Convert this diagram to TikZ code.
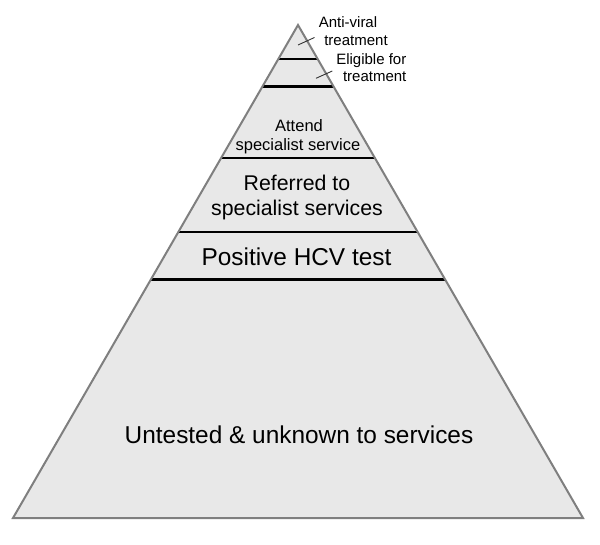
\documentclass[tikz,border=0pt]{standalone}
\usepackage{fontspec}
\setmainfont{Liberation Sans}
\usetikzlibrary{calc}
\definecolor{pyrfill}{HTML}{E8E8E8}
\definecolor{pyredge}{HTML}{7F7F7F}
\tikzset{
  lbl/.style={inner sep=0pt, anchor=base, text=black},
  small/.style={lbl, font=\fontsize{15}{18}\selectfont},
  mid/.style={lbl, font=\fontsize{16.5}{20}\selectfont},
  big/.style={lbl, font=\fontsize{21.3}{25}\selectfont},
  huge/.style={lbl, font=\fontsize{24.4}{29}\selectfont},
  level/.style={line width=2.2pt, black},
  leader/.style={line width=0.9pt, black!80},
  pyr/.style={fill=pyrfill, draw=pyredge, line width=2pt, line join=miter},
}
\begin{document}
\begin{tikzpicture}[x=1pt, y=-1pt]
\useasboundingbox (0,0) rectangle (600,544);
\coordinate (A) at (298,25);
\coordinate (L) at (13,518);
\coordinate (R) at (583,518);
\fill[pyrfill] (A) -- (L) -- (R) -- cycle;
\foreach \t/\n in {0.06897/1, 0.12475/2, 0.26978/3, 0.41988/4, 0.51623/5}{
  \coordinate (l\n) at ($(A)!\t!(L)$);
  \coordinate (r\n) at ($(A)!\t!(R)$);
  \draw[level] (l\n) -- (r\n);
}
\draw[pyr, fill=none] (A) -- (L) -- (R) -- cycle;

% labels
\node[small] (av1) at (348,27.3) {Anti-viral};
\node[small] (av2) at (356,45) {treatment};
\node[small] (el1) at (371.3,64.5) {Eligible for};
\node[small] (el2) at (374.7,81.7) {treatment};
\node[mid] (at1) at (299,131.7) {Attend};
\node[mid] (at2) at (298,150.5) {specialist service};
\node[big] (rf1) at (297,190.5) {Referred to};
\node[big] (rf2) at (297,215.5) {specialist services};
\node[huge] (pos) at (296.5,265.8) {Positive HCV test};
\node[huge] (unt) at (299,443.3) {Untested \& unknown to services};

% leaders
\coordinate (avA) at (298,45);
\coordinate (avB) at (314.5,37.5);
\coordinate (elA) at (316,78.3);
\coordinate (elB) at (332.3,71);
\draw[leader] (avA) -- (avB);
\draw[leader] (elA) -- (elB);
\end{tikzpicture}
\end{document}
